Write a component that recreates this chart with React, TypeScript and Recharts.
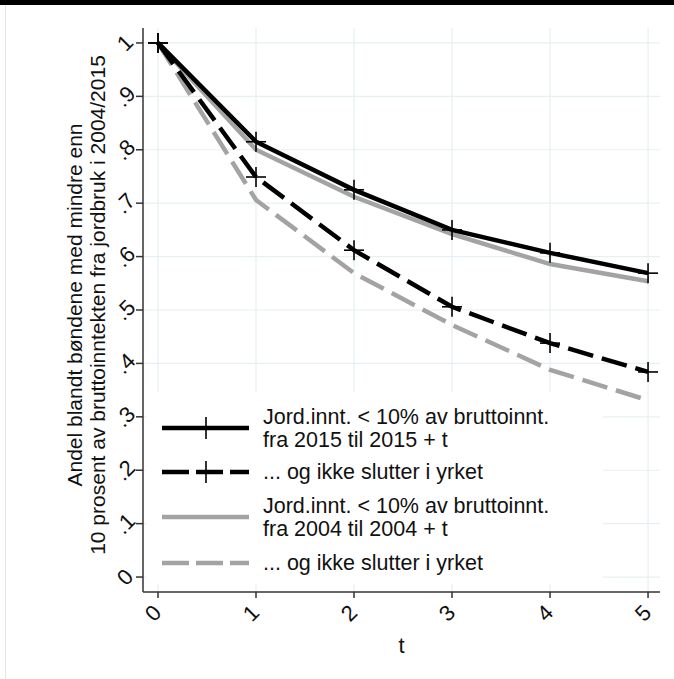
import { LineChart, Line, XAxis, YAxis, CartesianGrid, Legend } from 'recharts';

// t = years after start
const tValues = [0, 1, 2, 3, 4, 5];

// share of farmers with farm income < 10% of gross income
const share2015 = [1, 0.815, 0.725, 0.65, 0.607, 0.569];
const share2015Stay = [1, 0.749, 0.612, 0.506, 0.438, 0.384];
const share2004 = [1, 0.8, 0.712, 0.642, 0.586, 0.554];
const share2004Stay = [1, 0.706, 0.569, 0.472, 0.388, 0.331];

const xTicks = [0, 1, 2, 3, 4, 5];
const yTicks = [0, 0.1, 0.2, 0.3, 0.4, 0.5, 0.6, 0.7, 0.8, 0.9, 1];

const legendLabels = [
    ['Jord.innt. < 10% av bruttoinnt.', 'fra 2015 til 2015 + t'],
    ['... og ikke slutter i yrket'],
    ['Jord.innt. < 10% av bruttoinnt.', 'fra 2004 til 2004 + t'],
    ['... og ikke slutter i yrket'],
];

const yTitle = ['Andel blandt bøndene med mindre enn', '10 prosent av bruttoinntekten fra jordbruk i 2004/2015'];

const data = tValues.map((t, i) => ({
    t,
    s2015: share2015[i],
    s2015Stay: share2015Stay[i],
    s2004: share2004[i],
    s2004Stay: share2004Stay[i],
}));

const FONT = '"Liberation Sans", Arial, sans-serif';
const GRAY = '#a3a3a3';
const DASH = '26 9';

const fmtY = (v: number) => (v === 0 ? '0' : v === 1 ? '1' : '.' + Math.round(v * 10));

const PlusDot = (props: any) => {
    const { cx, cy, index } = props;
    if (cx == null || cy == null) return <g key={`p-${index}`} />;
    return (
        <g key={`p-${index}`}>
            <line x1={cx - 10} x2={cx + 10} y1={cy} y2={cy} stroke="#000" strokeWidth={1.6} />
            <line x1={cx} x2={cx} y1={cy - 10} y2={cy + 10} stroke="#000" strokeWidth={1.6} />
        </g>
    );
};

const XTick = ({ x, y, payload }: any) => (
    <text
        x={x - 5}
        y={y + 13}
        transform={`rotate(-45, ${x - 5}, ${y + 13})`}
        textAnchor="middle"
        dominantBaseline="central"
        fontSize={22}
        fontFamily={FONT}
        fill="#111"
    >
        {payload.value}
    </text>
);

const YTick = ({ x, y, payload }: any) => (
    <text
        x={x - 9}
        y={y}
        transform={`rotate(-45, ${x - 9}, ${y})`}
        textAnchor="middle"
        dominantBaseline="central"
        fontSize={22}
        fontFamily={FONT}
        fill="#111"
    >
        {fmtY(payload.value)}
    </text>
);

const YTitle = (props: any) => {
    const vb = props.viewBox || { x: 0, y: 28, width: 143, height: 564 };
    const cy = vb.y + vb.height / 2 - 5;
    const xs = [74, 97];
    return (
        <g>
            {yTitle.map((line, i) => (
                <text
                    key={i}
                    x={xs[i]}
                    y={cy}
                    transform={`rotate(-90, ${xs[i]}, ${cy})`}
                    textAnchor="middle"
                    dominantBaseline="central"
                    fontSize={21}
                    fontFamily={FONT}
                    fill="#111"
                >
                    {line}
                </text>
            ))}
        </g>
    );
};

const XTitle = (props: any) => {
    const vb = props.viewBox || { x: 143, y: 592, width: 517, height: 87 };
    return (
        <text
            x={vb.x + vb.width / 2}
            y={vb.y + 53}
            textAnchor="middle"
            dominantBaseline="central"
            fontSize={22}
            fontFamily={FONT}
            fill="#111"
        >
            t
        </text>
    );
};

const swatches = [
    { color: '#000', dash: undefined, plus: true },
    { color: '#000', dash: '27 7', plus: true },
    { color: GRAY, dash: undefined, plus: false },
    { color: GRAY, dash: '27 7', plus: false },
];
const rowY = [36, 80, 125, 171];

const renderLegend = () => (
    <svg width={457} height={192} style={{ display: 'block' }}>
        {swatches.map((s, i) => (
            <g key={i}>
                <line x1={16} x2={103} y1={rowY[i]} y2={rowY[i]} stroke={s.color} strokeWidth={4.5} strokeDasharray={s.dash} />
                {s.plus && (
                    <>
                        <line x1={50} x2={70} y1={rowY[i]} y2={rowY[i]} stroke="#000" strokeWidth={1.6} />
                        <line x1={60} x2={60} y1={rowY[i] - 11} y2={rowY[i] + 11} stroke="#000" strokeWidth={1.6} />
                    </>
                )}
                {legendLabels[i].map((txt, j) => (
                    <text
                        key={j}
                        x={117}
                        y={legendLabels[i].length === 1 ? rowY[i] : rowY[i] - 11.5 + j * 23}
                        dominantBaseline="central"
                        fontSize={21.5}
                        fontFamily={FONT}
                        fill="#111"
                    >
                        {txt}
                    </text>
                ))}
            </g>
        ))}
    </svg>
);

export default function App() {
    return (
        <div style={{ position: 'absolute', left: 0, top: 0, width: 674, height: 679, background: '#fff' }}>
            <div style={{ position: 'absolute', left: 0, top: 0, width: 674, height: 5, background: '#000' }} />
            <div style={{ position: 'absolute', left: 5, top: 5, width: 1, height: 674, background: '#e6e6e6' }} />
            <div style={{ position: 'absolute', left: 0, top: 0 }}>
                <LineChart width={674} height={679} data={data} margin={{ top: 28, right: 14, left: 0, bottom: 0 }}>
                    <CartesianGrid stroke="#e6f0f2" strokeWidth={1.2} horizontalValues={yTicks} verticalValues={xTicks} />
                    <XAxis
                        dataKey="t"
                        type="number"
                        domain={[-0.153, 5.122]}
                        ticks={xTicks}
                        allowDataOverflow
                        height={87}
                        tickSize={6}
                        tickMargin={2}
                        tick={<XTick />}
                        stroke="#333"
                        strokeWidth={1.5}
                        label={<XTitle />}
                    />
                    <YAxis
                        type="number"
                        domain={[-0.028, 1.028]}
                        ticks={yTicks}
                        allowDataOverflow
                        width={143}
                        tickSize={7}
                        tickMargin={2}
                        tick={<YTick />}
                        stroke="#333"
                        strokeWidth={1.5}
                        label={<YTitle />}
                    />
                    <Line dataKey="s2004Stay" stroke={GRAY} strokeWidth={4.5} strokeDasharray={DASH} dot={false} isAnimationActive={false} />
                    <Line dataKey="s2004" stroke={GRAY} strokeWidth={4.5} dot={false} isAnimationActive={false} />
                    <Line dataKey="s2015Stay" stroke="#000" strokeWidth={4.5} strokeDasharray={DASH} dot={PlusDot} isAnimationActive={false} />
                    <Line dataKey="s2015" stroke="#000" strokeWidth={4.5} dot={PlusDot} isAnimationActive={false} />
                    <Legend
                        layout="horizontal"
                        verticalAlign="middle"
                        align="center"
                        content={renderLegend}
                        wrapperStyle={{ position: 'absolute', left: 146, top: 392, width: 457, height: 192, background: '#fff' }}
                    />
                </LineChart>
            </div>
        </div>
    );
}
